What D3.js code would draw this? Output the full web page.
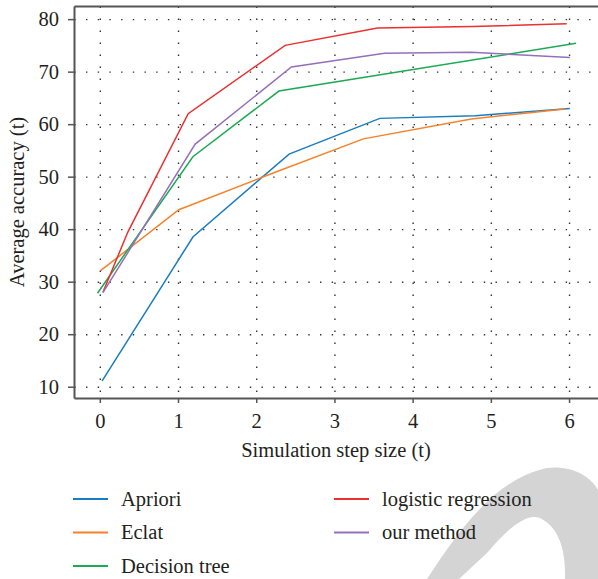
<!DOCTYPE html>
<html>
<head>
<meta charset="utf-8">
<script src="https://cdn.jsdelivr.net/npm/d3@7"></script>
<style>
	body { margin: 0; background: #fff; }
</style>
</head>
<body>
<script>
// series values (x = simulation step, y = average accuracy)
const aprioriX = [0.03, 1.19, 2.42, 3.58, 4.8, 6.01];
const aprioriY = [11.1, 38.5, 54.3, 61.1, 61.6, 63.0];
const eclatX = [0.01, 1.01, 2.2, 3.37, 4.75, 5.95];
const eclatY = [32.1, 43.7, 50.6, 57.2, 61.0, 62.9];
const treeX = [-0.03, 1.19, 2.29, 6.09];
const treeY = [27.8, 53.8, 66.3, 75.4];
const logisticX = [0.04, 0.36, 1.13, 2.37, 3.55, 4.77, 5.97];
const logisticY = [28.0, 39.5, 62.0, 75.0, 78.3, 78.6, 79.1];
const oursX = [0.04, 1.22, 2.45, 3.64, 4.75, 6.01];
const oursY = [27.9, 56.2, 70.9, 73.5, 73.7, 72.7];

const seriesNames = ['Apriori', 'Eclat', 'Decision tree', 'logistic regression', 'our method'];
const xTicks = [0, 1, 2, 3, 4, 5, 6];
const yTicks = [10, 20, 30, 40, 50, 60, 70, 80];

const series = [
	{ name: seriesNames[0], xs: aprioriX, ys: aprioriY, color: '#1a7dc0' },
	{ name: seriesNames[1], xs: eclatX, ys: eclatY, color: '#f5822a' },
	{ name: seriesNames[2], xs: treeX, ys: treeY, color: '#1aab53' },
	{ name: seriesNames[3], xs: logisticX, ys: logisticY, color: '#ec2f2f' },
	{ name: seriesNames[4], xs: oursX, ys: oursY, color: '#9470bb' }
];

const W = 598, H = 579;
const plot = { left: 74, right: 598, top: 6, bottom: 398 };
const fontFamily = '"Liberation Serif", "Times New Roman", "DejaVu Serif", serif';
const fontSize = 20.5;
const textColor = '#231f20';

const svg = d3.select('body').append('svg')
	.attr('width', W)
	.attr('height', H)
	.attr('font-family', fontFamily);

// watermark shape in the corner (decoration only)
svg.append('path')
	.attr('fill', '#d4d4d4')
	.attr('d', 'M427,579 C465,520 500,478 547,468 C570,465 590,475 598,490 L598,579 L565,579 C566,552 560,528 540,518 C525,512 505,532 488,552 L459,579 Z');

// scales
const x = d3.scaleLinear().domain([-0.33, 6.37]).range([plot.left, plot.right]);
const y = d3.scaleLinear().domain([7.85, 82.5]).range([plot.bottom, plot.top]);

// dotted grid
svg.append('g')
	.attr('transform', `translate(${plot.left},0)`)
	.call(d3.axisLeft(y).tickValues(yTicks).tickSize(-(plot.right - plot.left)).tickFormat(''))
	.call(g => g.select('.domain').remove())
	.call(g => g.selectAll('line')
		.attr('stroke', '#333')
		.attr('stroke-width', 1.4)
		.attr('stroke-dasharray', '1.4 10.3')
		.attr('stroke-dashoffset', -12));

svg.append('g')
	.attr('transform', `translate(0,${plot.bottom})`)
	.call(d3.axisBottom(x).tickValues(xTicks).tickSize(-(plot.bottom - plot.top)).tickFormat(''))
	.call(g => g.select('.domain').remove())
	.call(g => g.selectAll('line')
		.attr('stroke', '#333')
		.attr('stroke-width', 1.4)
		.attr('stroke-dasharray', '1.4 10.6')
		.attr('stroke-dashoffset', -6));

// lines
const line = d3.line()
	.x(d => x(d[0]))
	.y(d => y(d[1]));

svg.append('g')
	.selectAll('path')
	.data(series)
	.join('path')
	.attr('fill', 'none')
	.attr('stroke', d => d.color)
	.attr('stroke-width', 1.5)
	.attr('d', d => line(d.xs.map((v, i) => [v, d.ys[i]])));

// axes
const axisColor = '#555';

svg.append('g')
	.attr('transform', `translate(${plot.left},0)`)
	.call(d3.axisLeft(y).tickValues(yTicks).tickSize(6).tickSizeOuter(0).tickPadding(9).tickFormat(d3.format('d')))
	.attr('font-family', null)
	.attr('font-size', fontSize)
	.call(g => g.select('.domain').attr('stroke', axisColor).attr('stroke-width', 2))
	.call(g => g.selectAll('.tick line').attr('stroke', axisColor).attr('stroke-width', 1.5))
	.call(g => g.selectAll('.tick text').attr('fill', textColor).attr('dy', '0.33em'));

svg.append('g')
	.attr('transform', `translate(0,${plot.bottom})`)
	.call(d3.axisBottom(x).tickValues(xTicks).tickSize(5).tickSizeOuter(0).tickPadding(10).tickFormat(d3.format('d')))
	.attr('font-family', null)
	.attr('font-size', fontSize)
	.call(g => g.select('.domain').attr('stroke', axisColor).attr('stroke-width', 2))
	.call(g => g.selectAll('.tick line').attr('stroke', axisColor).attr('stroke-width', 1.5))
	.call(g => g.selectAll('.tick text').attr('fill', textColor));

svg.append('g')
	.attr('transform', `translate(0,${plot.top})`)
	.call(d3.axisTop(x).tickValues([]).tickSizeOuter(0))
	.call(g => g.select('.domain').attr('stroke', axisColor).attr('stroke-width', 2));

// axis titles
svg.append('text')
	.attr('x', (plot.left + plot.right) / 2)
	.attr('y', 457)
	.attr('text-anchor', 'middle')
	.attr('font-size', fontSize)
	.attr('fill', textColor)
	.text('Simulation step size (t)');

svg.append('text')
	.attr('transform', `translate(24,${(plot.top + plot.bottom) / 2}) rotate(-90)`)
	.attr('text-anchor', 'middle')
	.attr('font-size', fontSize)
	.attr('fill', textColor)
	.text('Average accuracy (t)');

// legend
const legendCols = [73, 334];
const legendRows = [499, 532.5, 566];

const legend = svg.append('g')
	.selectAll('g')
	.data(series)
	.join('g')
	.attr('transform', (d, i) => i < 3
		? `translate(${legendCols[0]},${legendRows[i]})`
		: `translate(${legendCols[1]},${legendRows[i - 3]})`);

legend.append('line')
	.attr('x1', 0).attr('x2', 35)
	.attr('stroke', d => d.color)
	.attr('stroke-width', 2);

legend.append('text')
	.attr('x', 48)
	.attr('y', 6.5)
	.attr('font-size', fontSize)
	.attr('fill', textColor)
	.text(d => d.name);
</script>
</body>
</html>
